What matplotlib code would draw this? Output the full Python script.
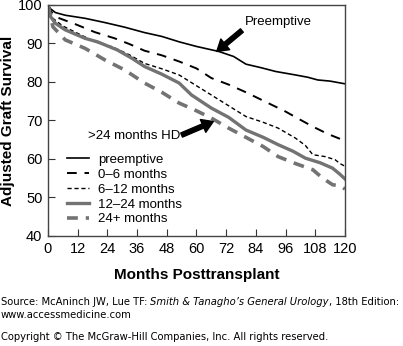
import matplotlib.pyplot as plt

# ==========================================================
# DATA
# ==========================================================

preempt_m = [0, 1, 3, 7, 15, 23, 31, 39, 46, 53, 60, 69, 75, 80, 86, 92, 100, 105, 109, 114, 120]
preempt_v = [100, 99.0, 98.0, 97.3, 96.5, 95.4, 94.2, 92.8, 91.8, 90.4, 89.2, 87.9, 86.6, 84.6, 83.7,
             82.7, 81.8, 81.2, 80.5, 80.2, 79.5]

m0_6_m = [0, 1, 3, 11, 19, 27, 33, 39, 46, 53, 60, 66, 73, 80, 88, 96, 101, 107, 113, 120]
m0_6_v = [100, 98.5, 96.9, 95.0, 92.9, 91.3, 89.8, 88.1, 86.9, 85.3, 83.5, 81.0, 79.3, 77.3, 74.8,
          72.3, 70.5, 68.4, 66.5, 64.7]

m6_12_m = [0, 2, 6, 12, 19, 26, 33, 39, 46, 53, 60, 66, 73, 80, 87, 93, 100, 104, 107, 112, 116, 118, 120]
m6_12_v = [100, 96.5, 94.5, 92.6, 90.4, 89.1, 87.0, 84.8, 83.4, 81.8, 79.0, 76.6, 73.8, 71.0, 69.5,
           68.0, 65.4, 63.5, 61.1, 60.6, 59.8, 58.8, 58.1]

m12_24_m = [0, 1, 3, 7, 15, 20, 28, 34, 39, 46, 53, 58, 66, 73, 80, 87, 93, 99, 104, 110, 115, 118, 120]
m12_24_v = [100, 97.0, 95.2, 93.5, 91.3, 90.4, 88.3, 86.1, 84.0, 82.0, 79.7, 76.6, 73.2, 70.8, 67.5,
            65.6, 63.7, 62.0, 60.2, 59.0, 57.6, 56.0, 54.8]

m24_m = [0, 2, 7, 15, 23, 31, 39, 46, 53, 60, 66, 73, 80, 87, 93, 100, 107, 111, 115, 118, 120]
m24_v = [100, 94.3, 90.9, 88.7, 85.7, 83.1, 79.7, 77.3, 74.5, 72.5, 70.6, 68.0, 65.6, 63.2, 60.6,
         58.8, 57.2, 55.0, 53.3, 53.0, 52.2]

x_ticks = [0, 12, 24, 36, 48, 60, 72, 84, 96, 108, 120]
y_ticks = [40, 50, 60, 70, 80, 90, 100]

GREY = "#737373"

# ==========================================================
# STYLE
# ==========================================================

plt.rcParams["font.family"] = ["Liberation Sans", "DejaVu Sans"]
plt.rcParams["font.size"] = 9.5

fig = plt.figure(figsize=(4.03, 3.46), dpi=100)
ax = fig.add_axes([0.119, 0.318, 0.737, 0.668])

# ==========================================================
# CURVES
# ==========================================================

ax.plot(preempt_m, preempt_v, color="black", linewidth=1.2, label="preemptive")
ax.plot(m0_6_m, m0_6_v, color="black", linewidth=1.4, dashes=(5, 4), label="0\u20136 months")
ax.plot(m6_12_m, m6_12_v, color="black", linewidth=1.0, dashes=(3, 2), label="6\u201312 months")
ax.plot(m12_24_m, m12_24_v, color=GREY, linewidth=2.4, label="12\u201324 months")
ax.plot(m24_m, m24_v, color=GREY, linewidth=2.6, dashes=(3, 2.2), label="24+ months")

# ==========================================================
# ANNOTATIONS
# ==========================================================

arrow = dict(facecolor="black", edgecolor="black", width=3.2, headwidth=10, headlength=8, shrink=0)

ax.annotate("Preemptive", xy=(68.2, 87.9), xytext=(93, 95.5),
            ha="center", va="center", fontsize=9.5, arrowprops=arrow)
ax.annotate("", xy=(66.8, 69.7), xytext=(54, 66.2), arrowprops=arrow)
ax.text(53.5, 66.0, ">24 months HD", ha="right", va="center", fontsize=9.5)

# ==========================================================
# AXES SETTINGS
# ==========================================================

ax.set_xlim(0, 120)
ax.set_ylim(40, 100)
ax.set_xticks(x_ticks)
ax.set_yticks(y_ticks)
ax.tick_params(direction="in", length=5, width=0.8, color="#333333", labelsize=10.5, pad=4)

for spine in ax.spines.values():
    spine.set_color("#444444")
    spine.set_linewidth(1.0)

ax.set_xlabel("Months Posttransplant", fontsize=11, fontweight="bold", labelpad=9)
ax.set_ylabel("Adjusted Graft Survival", fontsize=11, fontweight="bold")
ax.yaxis.set_label_coords(-0.112, 0.5)

ax.legend(loc="lower left", bbox_to_anchor=(0.03, 0.0), frameon=False, fontsize=9.5,
          handlelength=1.6, handletextpad=0.7, labelspacing=0.2, borderpad=0.3)

# ==========================================================
# SOURCE LINES
# ==========================================================

src = dict(family="DejaVu Sans", fontsize=7.2, va="bottom")
t1 = fig.text(0.002, 0.112, "Source: McAninch JW, Lue TF: ", **src)
t2 = ax.annotate("Smith & Tanagho\u2019s General Urology", xy=(1, 0), xycoords=t1,
                 style="italic", annotation_clip=False, **src)
ax.annotate(", 18th Edition:", xy=(1, 0), xycoords=t2, annotation_clip=False, **src)
fig.text(0.002, 0.075, "www.accessmedicine.com", **src)
fig.text(0.002, 0.013, "Copyright \u00a9 The McGraw-Hill Companies, Inc. All rights reserved.", **src)

plt.savefig("out.png", dpi=100)
